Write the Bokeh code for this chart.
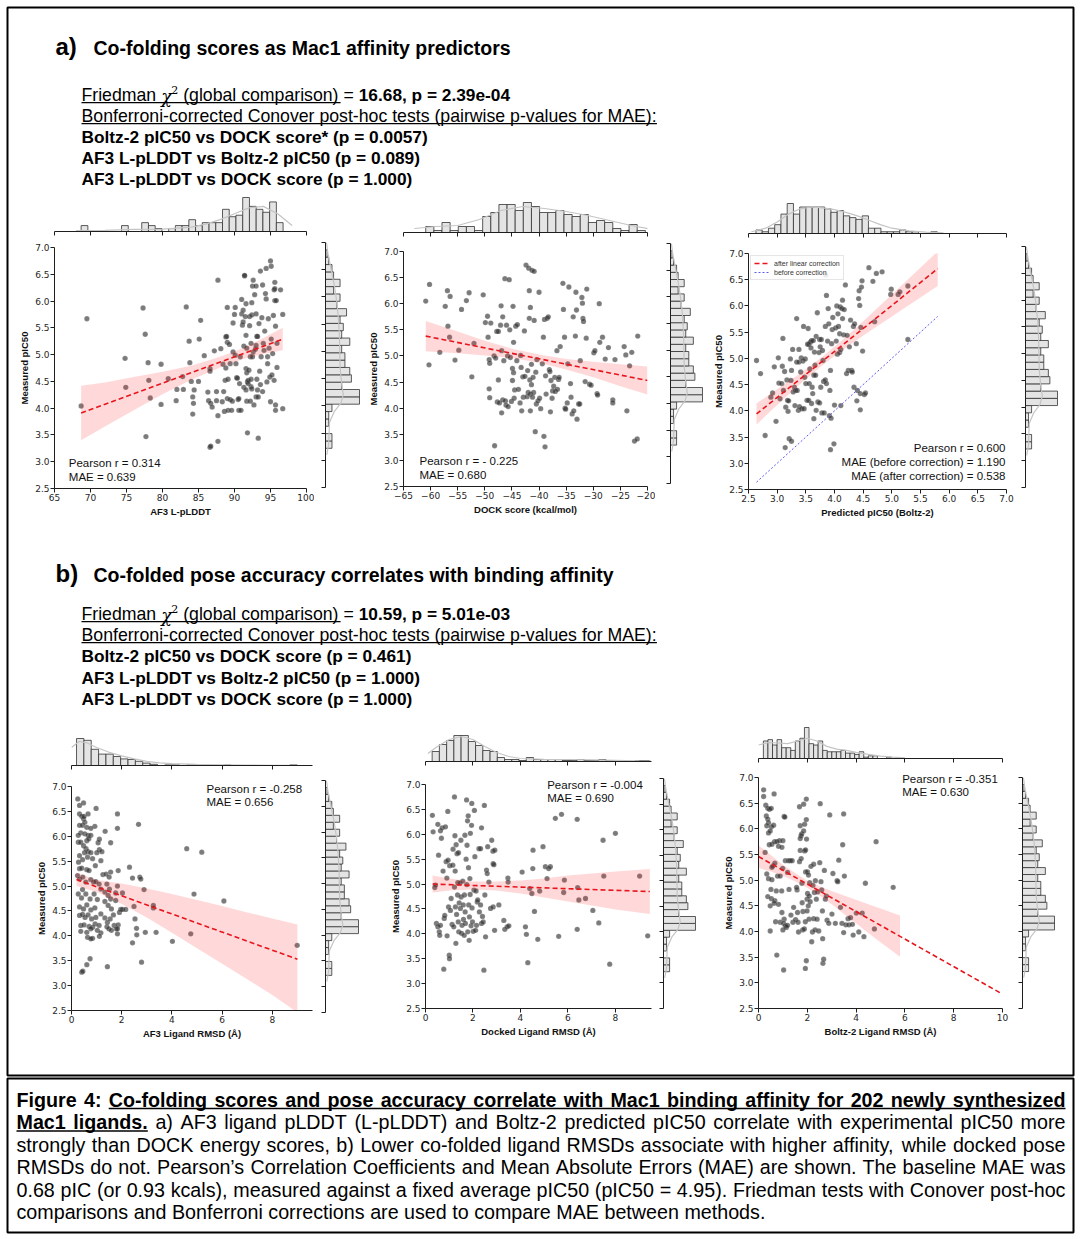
from bokeh.plotting import figure
from bokeh.models import (Range1d, Label, GridBox, Column, FixedTicker, NumeralTickFormatter,
                          Legend, LegendItem)
from bokeh.embed import file_html
from bokeh.resources import INLINE

# ============================ DATA ============================
pic50_ticks = [2.5, 3.0, 3.5, 4.0, 4.5, 5.0, 5.5, 6.0, 6.5, 7.0]

# --- a1: AF3 L-pLDDT vs measured pIC50 ---
a1_xy = [(68.7,4.04),(69.5,5.67),(74.8,4.93),(74.9,4.39),(77.3,5.87),(77.6,5.38),(77.7,3.47),(78.0,4.85),(78.1,4.52),(78.3,4.19),
 (79.8,4.82),(79.8,4.07),(80.8,4.55),(81.9,4.14),(82.0,4.35),(82.9,4.35),(82.8,4.59),(83.3,5.89),(83.7,5.25),(83.8,4.85),
 (84.0,4.50),(84.2,4.21),(84.2,3.89),(84.3,4.09),(84.4,4.34),(85.0,4.50),(85.1,5.29),(85.3,5.64),(85.8,4.98),(86.3,4.30),
 (86.4,4.14),(86.6,4.74),(86.6,3.27),(86.6,4.69),(86.7,3.29),(86.7,4.09),(86.9,4.02),(87.2,5.07),(87.5,4.14),(87.5,4.31),
 (87.7,3.38),(87.7,6.39),(87.7,3.86),(88.1,5.11),(88.3,4.12),(88.4,4.82),(88.5,4.31),(88.6,3.94),(88.7,4.52),(88.8,5.33),
 (88.8,4.75),(88.9,5.34),(89.0,5.23),(89.0,5.88),(89.0,4.18),(89.1,3.96),(89.1,4.54),(89.3,5.19),(89.4,4.16),(89.4,4.83),
 (89.6,3.96),(89.7,4.13),(89.8,5.59),(89.8,5.05),(90.0,5.75),(90.1,5.88),(90.1,4.99),(90.2,4.83),(90.3,4.57),(90.4,4.56),
 (90.5,4.16),(90.6,4.18),(90.6,3.96),(90.7,4.46),(90.8,4.96),(90.9,3.96),(91.0,5.76),(91.0,6.03),(91.1,5.55),(91.2,5.61),
 (91.2,5.83),(91.3,4.39),(91.3,5.16),(91.4,6.47),(91.4,6.48),(91.5,5.71),(91.6,5.36),(91.6,4.74),(91.6,5.95),(91.6,4.34),
 (91.7,5.12),(91.7,4.66),(91.7,4.13),(91.8,3.54),(91.8,4.49),(91.9,4.46),(91.9,4.52),(92.0,4.71),(92.1,5.71),(92.1,5.54),
 (92.2,4.96),(92.2,4.13),(92.3,4.54),(92.3,5.21),(92.3,4.40),(92.4,4.36),(92.4,5.74),(92.4,5.97),(92.5,4.96),(92.5,6.28),
 (92.6,5.05),(92.6,6.39),(92.7,4.06),(92.8,6.12),(92.9,5.10),(93.0,5.17),(93.0,6.28),(93.0,5.76),(93.0,4.21),(93.1,5.34),
 (93.1,4.54),(93.2,5.34),(93.2,4.34),(93.3,4.21),(93.3,3.44),(93.4,5.58),(93.5,4.69),(93.6,4.44),(93.6,6.56),(93.7,4.96),
 (93.8,5.69),(93.9,6.30),(93.9,4.31),(94.0,5.21),(94.1,5.08),(94.2,5.44),(94.3,6.14),(94.4,6.61),(94.4,6.04),(94.5,4.49),
 (94.6,4.96),(94.6,4.83),(94.7,5.67),(94.8,5.12),(94.9,4.58),(95.0,4.12),(95.0,6.75),(95.1,5.29),(95.1,6.65),(95.2,4.62),
 (95.3,5.02),(95.4,5.73),(95.5,4.52),(95.5,6.21),(95.6,6.35),(95.6,6.23),(95.6,6.01),(95.7,5.53),(95.7,3.96),(95.7,4.06),
 (95.8,6.01),(95.9,5.21),(96.4,6.21),(96.7,5.75),(96.7,3.99),(95.9,4.76)]
a1_fit_x = [68.7, 96.7]
a1_fit_y = [3.91, 5.29]
a1_ci_x = [68.7, 72, 76, 80, 84, 88, 90, 92, 94, 96.7]
a1_ci_lo = [3.40, 3.66, 3.96, 4.26, 4.53, 4.76, 4.86, 4.95, 5.01, 5.08]
a1_ci_hi = [4.42, 4.48, 4.58, 4.68, 4.79, 4.96, 5.06, 5.17, 5.31, 5.50]
a1_hist_start, a1_hist_width = 68.7, 0.935
a1_hist_counts = [4,0,0,0,0,0,4,0,0,6,4,2,0,2,4,4,8,4,6,6,6,15,10,11,23,17,15,13,20,6]
a1_kde_x = [68, 72, 76, 80, 84, 86, 88, 90, 92, 94, 96, 98]
a1_kde_c = [0.6, 0.8, 1.4, 1.6, 3.0, 5.0, 8.0, 12.0, 16.0, 17.0, 12.0, 4.0]

# --- a2: DOCK score vs measured pIC50 ---
a2_xy = [(-60.9,6.05),(-60.2,6.37),(-60.3,4.83),(-58.3,5.07),(-57.3,5.95),(-56.9,6.25),(-56.8,5.57),(-56.4,6.14),(-56.5,5.36),(-55.5,4.92),
 (-54.8,5.11),(-54.3,5.89),(-53.4,6.06),(-52.9,6.21),(-52.4,4.60),(-52.0,5.24),(-50.3,6.17),(-49.9,5.64),(-49.5,5.76),(-49.4,5.36),
 (-49.2,4.93),(-49.1,4.86),(-49.2,4.37),(-49.1,4.20),(-48.9,5.63),(-48.3,5.00),(-48.2,3.28),(-48.0,4.96),(-47.8,5.47),(-47.7,4.12),
 (-47.5,5.47),(-47.5,4.54),(-47.3,4.10),(-47.1,5.59),(-47.0,5.96),(-46.9,5.10),(-46.9,3.91),(-46.7,5.75),(-46.7,4.16),(-46.5,4.91),
 (-46.3,6.48),(-46.2,4.14),(-46.1,4.06),(-46.0,5.59),(-45.8,5.00),(-45.7,4.03),(-45.5,6.46),(-45.4,5.50),(-45.3,4.97),(-45.1,4.13),
 (-44.9,4.53),(-44.9,4.76),(-44.8,5.95),(-44.7,4.68),(-44.7,5.26),(-44.6,4.19),(-44.5,4.35),(-44.3,5.57),(-44.1,4.91),(-44.0,5.60),
 (-43.8,4.36),(-43.5,4.10),(-43.4,5.01),(-43.3,4.78),(-43.2,3.95),(-43.0,4.60),(-42.9,4.21),(-42.7,5.48),(-42.6,4.61),(-42.4,6.74),
 (-42.2,4.22),(-42.1,4.72),(-42.0,4.30),(-41.9,6.68),(-41.8,6.25),(-41.8,5.72),(-41.7,4.54),(-41.6,3.95),(-41.6,5.93),(-41.6,4.27),
 (-41.4,4.84),(-41.4,4.45),(-41.3,6.64),(-41.2,4.21),(-41.1,4.59),(-41.0,4.30),(-40.9,6.62),(-40.9,5.68),(-40.7,3.55),(-40.6,4.69),
 (-40.5,4.08),(-40.4,4.93),(-40.2,4.14),(-40.0,6.22),(-39.9,4.19),(-39.7,3.99),(-39.4,4.85),(-39.2,5.36),(-39.1,3.46),(-39.0,5.70),
 (-38.9,3.26),(-38.8,4.62),(-38.7,4.27),(-38.5,5.72),(-38.3,5.75),(-38.1,4.74),(-38.0,4.70),(-37.9,3.93),(-37.8,4.53),(-37.6,4.19),
 (-37.5,4.33),(-37.3,4.42),(-37.1,4.59),(-37.0,4.32),(-36.7,5.10),(-36.6,4.36),(-36.4,4.55),(-36.3,4.59),(-36.1,5.18),(-35.6,6.39),
 (-35.5,5.89),(-35.3,5.36),(-35.2,4.00),(-35.1,3.98),(-34.8,4.10),(-34.7,4.85),(-34.5,6.32),(-34.2,4.47),(-34.1,4.21),(-33.9,3.89),
 (-33.7,5.75),(-33.6,3.95),(-33.3,5.38),(-33.2,6.22),(-33.1,5.88),(-33.0,3.79),(-32.7,4.08),(-32.5,4.08),(-32.4,4.91),(-32.1,6.12),
 (-32.0,6.01),(-31.9,5.72),(-31.8,5.66),(-31.5,4.51),(-31.3,5.34),(-31.2,6.28),(-30.7,4.46),(-30.4,4.44),(-29.9,5.06),(-29.7,5.10),
 (-29.3,4.28),(-29.2,4.25),(-28.9,6.00),(-28.8,5.26),(-28.3,5.36),(-27.8,4.94),(-27.2,5.16),(-26.4,4.16),(-26.4,4.10),(-26.0,4.93),
 (-24.3,5.18),(-24.0,5.02),(-23.8,3.95),(-23.3,4.81),(-22.9,5.07),(-22.4,3.37),(-21.9,3.41),(-21.8,5.38)]
a2_fit_x = [-60.9, -20.0]
a2_fit_y = [5.38, 4.53]
a2_ci_x = [-60.9, -55, -50, -45, -40, -35, -30, -25, -20]
a2_ci_lo = [5.09, 5.05, 5.01, 4.96, 4.87, 4.74, 4.59, 4.42, 4.26]
a2_ci_hi = [5.67, 5.47, 5.29, 5.14, 5.03, 4.94, 4.89, 4.84, 4.80]
a2_hist_start, a2_hist_width = -60.9, 1.5
a2_hist_counts = [3,1,5,1,3,3,1,8,10,14,14,11,15,13,10,10,11,9,8,9,5,6,5,2,1,4,1]
a2_kde_x = [-63, -59, -55, -51, -47, -43, -39, -35, -31, -27, -23, -19]
a2_kde_c = [2.0, 3.0, 3.5, 6.5, 11.0, 13.0, 12.0, 10.5, 8.5, 6.0, 3.5, 1.5]

# --- a3: Boltz-2 predicted pIC50 vs measured pIC50 ---
a3_xy = [(2.64,4.96),(2.71,4.71),(2.79,3.53),(2.89,4.26),(2.92,4.34),(2.95,4.84),(2.98,3.80),(3.02,5.01),(3.03,4.53),(3.05,4.23),
 (3.08,4.52),(3.09,4.85),(3.10,5.38),(3.11,4.39),(3.13,4.75),(3.14,3.30),(3.15,4.07),(3.17,4.59),(3.18,4.20),(3.19,3.99),
 (3.20,4.19),(3.21,3.47),(3.23,4.99),(3.24,4.58),(3.25,3.42),(3.25,4.77),(3.27,5.17),(3.28,4.36),(3.30,4.45),(3.31,4.10),
 (3.32,4.39),(3.34,5.76),(3.34,4.93),(3.35,4.39),(3.37,4.01),(3.38,5.17),(3.38,4.93),(3.39,4.08),(3.41,4.74),(3.42,5.01),
 (3.43,4.04),(3.45,4.95),(3.46,5.61),(3.47,4.04),(3.48,4.64),(3.49,4.99),(3.50,4.52),(3.52,4.20),(3.53,5.27),(3.54,5.57),
 (3.55,4.20),(3.55,5.27),(3.56,4.52),(3.57,4.80),(3.58,5.31),(3.59,5.20),(3.60,5.34),(3.60,4.14),(3.61,4.45),(3.62,4.33),
 (3.63,5.34),(3.64,4.68),(3.64,3.85),(3.65,5.12),(3.66,4.87),(3.67,4.68),(3.68,4.01),(3.68,5.42),(3.70,5.87),(3.71,4.17),
 (3.73,5.11),(3.74,5.36),(3.74,4.15),(3.75,5.22),(3.76,4.45),(3.77,5.36),(3.78,3.96),(3.79,5.15),(3.80,4.96),(3.81,4.56),
 (3.82,3.96),(3.84,4.59),(3.84,5.61),(3.85,6.59),(3.86,6.20),(3.86,4.52),(3.88,5.33),(3.89,5.95),(3.90,5.66),(3.91,3.91),
 (3.92,4.39),(3.93,3.26),(3.93,4.77),(3.94,3.86),(3.95,5.28),(3.96,5.55),(3.97,5.78),(3.99,3.37),(4.00,4.11),(4.02,5.58),
 (4.03,5.33),(4.04,6.00),(4.05,5.08),(4.06,5.85),(4.07,5.61),(4.09,5.11),(4.09,5.47),(4.10,5.98),(4.11,5.17),(4.11,4.10),
 (4.13,5.95),(4.14,5.76),(4.14,6.11),(4.16,5.45),(4.17,5.93),(4.19,6.40),(4.21,4.71),(4.22,5.44),(4.24,4.77),(4.26,5.22),
 (4.28,5.73),(4.30,4.77),(4.31,4.74),(4.33,5.61),(4.34,4.45),(4.35,5.66),(4.38,5.28),(4.39,4.19),(4.40,4.39),(4.42,6.14),
 (4.43,6.29),(4.44,6.01),(4.45,4.33),(4.45,4.02),(4.46,5.59),(4.47,6.36),(4.48,6.48),(4.49,5.14),(4.52,4.31),(4.54,4.34),
 (4.60,6.73),(4.67,6.47),(4.70,5.70),(4.73,6.62),(4.83,6.65),(4.99,6.32),(4.98,6.22),(5.11,6.22),(5.14,6.27),(5.28,6.38),
 (5.28,5.36)]
a3_fit_x = [2.64, 5.80]
a3_fit_y = [3.94, 6.71]
a3_raw_x = [2.64, 5.80]
a3_raw_y = [2.64, 5.80]
a3_ci_x = [2.64, 3.0, 3.4, 3.8, 4.2, 4.6, 5.0, 5.4, 5.8]
a3_ci_lo = [3.74, 4.11, 4.51, 4.88, 5.21, 5.51, 5.80, 6.09, 6.38]
a3_ci_hi = [4.14, 4.41, 4.71, 5.04, 5.41, 5.81, 6.22, 6.63, 7.04]
a3_hist_start, a3_hist_width = 2.63, 0.109
a3_hist_counts = [2,1,3,5,11,17,11,15,15,15,15,14,12,13,10,9,8,10,3,3,1,1,1,2,1,1,0,0,1]
a3_kde_x = [2.55, 2.8, 3.0, 3.2, 3.4, 3.6, 3.8, 4.0, 4.2, 4.4, 4.6, 4.8, 5.0, 5.3, 5.6, 5.9]
a3_kde_c = [1.0, 3.0, 6.5, 11.0, 14.0, 15.0, 14.5, 13.5, 12.0, 10.0, 7.5, 5.0, 3.0, 1.5, 0.8, 0.4]

# --- b1: AF3 ligand RMSD ---
b1_xy = [(0.25,6.75),(0.32,6.62),(0.48,6.67),(0.32,6.45),(0.41,6.40),(0.48,6.35),(0.50,6.40),(0.66,6.45),(0.98,6.56),(0.32,6.22),
 (0.44,6.22),(0.53,6.28),(0.61,6.18),(0.37,6.07),(0.27,6.02),(0.53,6.05),(0.66,6.02),(0.77,6.02),(0.93,6.20),(0.77,6.16),
 (0.27,5.88),(0.37,5.88),(0.61,5.91),(0.69,5.95),(0.48,5.81),(0.58,5.75),(0.66,5.69),(0.52,5.67),(0.77,5.67),(0.32,5.61),
 (0.44,5.53),(0.64,5.58),(0.84,5.55),(0.28,5.48),(0.32,5.35),(0.41,5.36),(0.61,5.33),(0.70,5.31),(0.95,5.41),(1.11,5.73),
 (1.06,5.87),(1.11,5.94),(1.21,5.69),(1.01,5.67),(1.17,5.51),(0.24,5.21),(0.32,5.14),(0.45,5.18),(0.57,5.08),(0.77,5.13),
 (0.88,5.08),(0.97,5.09),(1.10,5.04),(1.17,4.94),(0.44,4.93),(0.27,4.84),(0.40,4.76),(0.57,4.84),(0.74,4.74),(0.90,4.84),
 (1.03,4.73),(0.32,4.58),(0.48,4.54),(0.61,4.62),(0.77,4.52),(0.93,4.56),(0.32,4.41),(0.44,4.43),(0.54,4.37),(0.66,4.42),
 (0.80,4.34),(0.97,4.37),(1.17,4.44),(0.37,4.21),(0.50,4.22),(0.70,4.19),(0.84,4.17),(0.94,4.24),(1.10,4.21),(0.37,4.09),
 (0.61,4.07),(0.77,4.14),(1.03,4.11),(1.17,4.06),(0.64,3.97),(0.84,3.95),(0.77,3.94),(1.11,3.99),(0.74,3.54),(0.61,3.42),
 (0.41,3.27),(0.45,3.29),(1.25,5.23),(1.38,5.24),(1.50,5.18),(1.56,5.28),(1.86,5.31),(1.34,6.10),(1.56,5.87),(1.83,6.45),
 (1.83,6.16),(1.33,4.88),(1.41,5.04),(1.46,4.81),(1.51,4.94),(1.33,4.69),(1.46,4.61),(1.56,4.74),(1.59,4.54),(1.76,4.71),
 (1.33,4.36),(1.43,4.27),(1.54,4.34),(1.41,4.18),(1.49,4.14),(1.59,4.11),(1.70,4.21),(1.78,4.14),(1.83,4.04),(1.86,4.22),
 (1.43,3.38),(1.67,4.42),(1.91,4.47),(1.96,4.53),(2.03,4.53),(2.16,4.53),(1.83,5.00),(1.76,4.86),(2.03,4.86),(1.83,4.14),
 (2.31,5.38),(2.43,5.16),(2.49,4.59),(2.53,4.34),(2.43,3.86),(2.59,4.15),(2.60,4.02),(2.67,6.24),(2.72,5.18),(2.76,5.14),
 (2.79,3.47),(2.89,4.93),(2.94,4.07),(3.26,4.61),(3.26,4.56),(3.37,4.07),(4.02,3.89),(4.59,5.75),(4.75,4.04),(4.88,4.84),
 (5.19,5.68),(6.07,4.70),(8.99,3.81)]
b1_fit_x = [0.2, 9.0]
b1_fit_y = [5.13, 3.53]
b1_ci_x = [0.2, 1.0, 2.0, 3.0, 4.0, 5.0, 6.0, 7.0, 8.0, 9.0]
b1_ci_lo = [5.00, 4.88, 4.64, 4.37, 4.06, 3.75, 3.44, 3.13, 2.81, 2.46]
b1_ci_hi = [5.27, 5.12, 5.05, 4.95, 4.84, 4.72, 4.60, 4.47, 4.35, 4.23]
b1_hist_start, b1_hist_width = 0.2, 0.293
b1_hist_counts = [45,42,27,19,19,15,11,10,7,4,2,0,1,1,0,1,1,1,0,0,1,0,0,0,0,0,0,0,0,1]
b1_kde_x = [0.0, 0.3, 0.6, 1.0, 1.5, 2.0, 2.5, 3.0, 3.5, 4.0, 5.0, 6.0, 7.0, 8.0, 9.0]
b1_kde_c = [30, 40, 38, 30, 22, 16, 11, 7, 4.5, 3, 1.8, 1.2, 0.6, 0.4, 0.3]

# --- b2: docked ligand RMSD ---
b2_xy = [(0.29,6.38),(0.32,6.05),(0.39,4.93),(0.42,4.98),(0.52,6.20),(0.55,5.58),(0.46,4.21),(0.52,4.14),(0.58,4.04),(0.60,3.97),
 (0.63,4.17),(0.63,6.07),(0.67,5.92),(0.70,6.13),(0.74,5.26),(0.77,3.29),(0.79,4.31),(0.81,4.37),(0.84,6.15),(0.87,5.45),
 (0.90,5.12),(0.91,3.96),(0.94,6.46),(0.95,5.48),(0.97,4.54),(1.00,3.57),(1.01,3.50),(1.02,5.37),(1.05,4.47),(1.08,4.71),
 (1.12,4.19),(1.15,5.38),(1.16,5.70),(1.19,4.14),(1.22,4.94),(1.22,6.75),(1.24,5.97),(1.25,5.26),(1.26,4.54),(1.28,3.81),
 (1.29,5.79),(1.31,4.39),(1.33,5.61),(1.35,4.78),(1.36,5.03),(1.38,4.24),(1.39,5.63),(1.40,4.04),(1.42,4.62),(1.45,5.02),
 (1.47,4.51),(1.49,5.88),(1.50,4.74),(1.52,4.01),(1.54,4.17),(1.57,5.06),(1.59,4.58),(1.60,4.29),(1.63,3.97),(1.64,4.78),
 (1.66,5.98),(1.67,4.44),(1.68,4.21),(1.71,5.50),(1.73,6.69),(1.74,4.99),(1.75,5.78),(1.77,6.27),(1.78,4.04),(1.80,6.37),
 (1.81,5.33),(1.82,4.58),(1.84,3.87),(1.85,4.34),(1.87,5.11),(1.88,4.79),(1.89,6.02),(1.92,4.16),(1.94,6.18),(1.95,6.62),
 (1.96,4.52),(1.98,4.24),(2.01,4.05),(2.04,4.88),(2.06,6.48),(2.08,5.55),(2.11,4.07),(2.13,4.86),(2.15,4.17),(2.18,4.64),
 (2.20,4.68),(2.25,5.71),(2.27,4.44),(2.32,4.58),(2.32,5.71),(2.36,6.13),(2.36,4.21),(2.40,4.35),(2.43,4.24),(2.46,3.27),
 (2.48,6.58),(2.50,4.78),(2.53,3.94),(2.57,5.28),(2.60,5.21),(2.62,5.75),(2.67,5.04),(2.74,4.51),(2.79,5.88),(2.84,5.66),
 (2.85,5.41),(2.88,5.39),(2.91,4.07),(2.92,5.68),(2.85,4.54),(3.09,4.58),(3.30,4.27),(3.34,4.09),(3.44,4.14),(3.47,5.12),
 (3.48,5.04),(3.51,4.16),(4.07,5.24),(4.21,4.14),(4.25,3.99),(4.31,3.42),(4.39,4.91),(4.48,4.81),(4.52,5.31),(4.53,5.68),
 (4.59,4.45),(4.73,3.89),(4.81,4.86),(4.95,5.75),(5.05,5.35),(5.12,5.11),(5.19,5.31),(5.26,5.35),(5.47,6.32),(5.61,3.95),
 (5.73,6.40),(5.82,4.83),(5.85,5.08),(6.39,6.30),(6.39,4.09),(6.41,4.93),(6.46,4.68),(6.74,4.71),(7.05,4.47),(7.30,4.22),
 (7.48,5.88),(7.51,5.16),(7.76,3.39),(8.00,6.02),(9.02,5.16),(9.36,3.96)]
b2_fit_x = [0.3, 9.45]
b2_fit_y = [5.00, 4.85]
b2_ci_x = [0.3, 1, 2, 3, 4, 5, 6, 7, 8, 9.45]
b2_ci_lo = [4.83, 4.87, 4.89, 4.87, 4.81, 4.73, 4.65, 4.57, 4.49, 4.40]
b2_ci_hi = [5.17, 5.11, 5.05, 5.05, 5.07, 5.11, 5.17, 5.21, 5.25, 5.30]
b2_hist_start, b2_hist_width = 0.28, 0.305
b2_hist_counts = [10,17,21,26,26,20,16,11,10,4,2,2,1,4,2,2,2,2,1,1,2,1,1,2,1,1,0,0,1,1]
b2_kde_x = [0.1, 0.5, 1.0, 1.5, 2.0, 2.5, 3.0, 3.5, 4.0, 5.0, 6.0, 7.0, 8.0, 9.0, 9.5]
b2_kde_c = [8, 15, 22, 25, 22, 15, 9, 5, 3, 2.2, 2, 1.6, 1.2, 0.7, 0.5]

# --- b3: Boltz-2 ligand RMSD ---
b3_xy = [(0.21,6.76),(0.21,6.63),(0.64,6.68),(0.30,6.46),(0.38,6.40),(0.32,6.25),(0.38,6.19),(0.45,6.38),(0.52,6.40),(0.41,6.12),
 (0.34,6.06),(0.53,6.04),(0.62,6.07),(0.41,5.92),(0.48,5.96),(0.44,5.69),(0.55,5.70),(0.66,5.75),(0.75,5.75),(0.86,5.77),
 (1.00,5.77),(0.82,5.66),(0.96,5.64),(0.27,5.54),(1.05,6.24),(1.08,6.23),(0.59,5.28),(0.55,5.25),(0.67,5.33),(0.34,5.12),
 (0.41,5.03),(0.55,5.01),(0.78,5.08),(0.89,5.08),(0.99,5.23),(0.51,4.82),(0.73,4.79),(0.95,4.79),(0.38,4.68),(0.53,4.64),
 (0.67,4.60),(0.48,4.50),(0.64,4.55),(0.82,4.53),(0.96,4.37),(1.05,4.24),(0.70,4.19),(0.89,4.18),(1.03,4.16),(1.10,4.11),
 (1.14,4.08),(1.19,4.12),(0.48,4.01),(1.00,4.03),(0.75,3.54),(1.03,3.25),(1.10,5.38),(1.19,5.15),(1.23,5.38),(1.30,5.38),
 (1.38,5.38),(1.25,4.82),(1.33,4.32),(1.41,4.18),(1.44,4.47),(1.52,4.23),(1.58,4.81),(1.60,4.37),(1.62,4.18),(1.64,3.99),
 (1.56,4.86),(1.68,6.43),(1.68,5.36),(1.71,6.06),(1.71,5.81),(1.74,5.86),(1.71,5.58),(1.77,5.90),(1.75,5.42),(1.78,4.94),
 (1.79,4.56),(1.81,4.03),(1.82,4.39),(1.85,6.48),(1.85,5.96),(1.88,4.05),(1.89,6.09),(1.89,5.57),(1.92,4.19),(1.92,3.28),
 (1.93,5.59),(1.93,5.16),(1.96,6.58),(1.96,3.43),(1.96,6.18),(1.97,5.80),(1.99,4.40),(1.99,4.63),(2.01,5.16),(2.01,4.74),
 (2.04,4.50),(2.05,5.10),(2.07,4.24),(2.08,4.69),(2.10,4.95),(2.12,4.58),(2.15,5.27),(2.18,3.80),(2.21,3.99),(2.23,4.90),
 (2.26,5.31),(2.26,4.25),(2.29,4.76),(2.32,4.03),(2.33,4.99),(2.37,4.63),(2.40,4.24),(2.42,4.77),(2.47,4.01),(2.51,5.34),
 (2.53,6.49),(2.56,4.97),(2.59,4.81),(2.62,4.40),(2.63,3.86),(2.64,3.38),(2.67,3.46),(2.70,5.19),(2.74,4.63),(2.78,4.69),
 (2.81,4.22),(2.88,4.16),(2.92,6.27),(3.01,4.34),(3.05,5.13),(3.15,4.16),(3.22,4.99),(3.25,4.97),(3.29,5.39),(3.36,4.47),
 (3.42,4.16),(3.45,5.69),(3.49,6.29),(3.49,3.98),(3.52,5.08),(3.58,4.13),(3.67,4.25),(3.71,4.13),(3.77,4.27),(3.85,4.14),
 (3.88,3.93),(4.01,4.36),(4.11,3.99),(4.25,4.36),(4.32,3.90),(4.38,4.94),(4.75,4.05),(4.82,5.75),(5.52,4.86)]
b3_fit_x = [0.0, 10.0]
b3_fit_y = [5.46, 2.78]
b3_ci_x = [0.0, 0.5, 1.0, 1.5, 2.0, 2.5, 3.0, 3.5, 4.0, 4.5, 5.0, 5.8]
b3_ci_lo = [5.24, 5.17, 5.08, 4.98, 4.85, 4.70, 4.53, 4.34, 4.16, 3.97, 3.79, 3.51]
b3_ci_hi = [5.68, 5.49, 5.30, 5.14, 4.99, 4.88, 4.79, 4.70, 4.62, 4.53, 4.45, 4.31]
b3_hist_start, b3_hist_width = 0.2, 0.187
b3_hist_counts = [13,14,10,14,8,8,6,13,15,23,11,10,13,6,5,5,5,6,4,4,3,5,1,2,2,0,0,1,0,0]
b3_kde_x = [0.0, 0.4, 0.8, 1.2, 1.6, 2.0, 2.4, 2.8, 3.2, 3.6, 4.0, 4.5, 5.0, 5.5, 6.0]
b3_kde_c = [10, 12, 11.5, 11, 13, 15, 13, 9, 7, 6, 4.5, 3, 1.8, 1.0, 0.5]

# --- measured pIC50 marginal (shared by all six panels) ---
pic50_hist_start, pic50_hist_width = 3.22, 0.135
pic50_hist_counts = [4,4,0,2,2,4,21,21,10,16,15,12,12,10,15,10,11,9,13,7,9,5,9,5,4,2,1]
pic50_kde_y = [3.1, 3.3, 3.5, 3.7, 3.9, 4.05, 4.2, 4.4, 4.7, 5.0, 5.3, 5.6, 5.9, 6.2, 6.5, 6.8, 7.0]
pic50_kde_c = [0.8, 2.0, 2.2, 2.5, 5.5, 9.5, 11.0, 10.0, 9.0, 8.8, 8.6, 8.0, 7.0, 5.5, 3.5, 1.5, 0.6]

# ---- texts ----
stats_a = ["16.68, p = 2.39e-04",
           "Boltz-2 pIC50 vs DOCK score* (p = 0.0057)",
           "AF3 L-pLDDT vs Boltz-2 pIC50 (p = 0.089)",
           "AF3 L-pLDDT vs DOCK score (p = 1.000)"]
stats_b = ["10.59, p = 5.01e-03",
           "Boltz-2 pIC50 vs DOCK score (p = 0.461)",
           "AF3 L-pLDDT vs Boltz-2 pIC50 (p = 1.000)",
           "AF3 L-pLDDT vs DOCK score (p = 1.000)"]
caption_lines = [
    [("Figure 4:", "b"), ("Co-folding scores and pose accuracy correlate with Mac1 binding affinity for 202 newly synthesized", "bu")],
    [("Mac1 ligands.", "bu"), ("a) AF3 ligand pLDDT (L-pLDDT) and Boltz-2 predicted pIC50 correlate with experimental pIC50 more", "r")],
    [("strongly than DOCK energy scores, b) Lower co-folded ligand RMSDs associate with higher affinity, while docked pose", "r")],
    [("RMSDs do not. Pearson\u2019s Correlation Coefficients and Mean Absolute Errors (MAE) are shown. The baseline MAE was", "r")],
    [("0.68 pIC (or 0.93 kcals), measured against a fixed average pIC50 (pIC50 = 4.95). Friedman tests with Conover post-hoc", "r")],
    [("comparisons and Bonferroni corrections are used to compare MAE between methods.", "r")],
]

# ============================ LAYOUT / STYLE ============================
OX, OY = 0, 0
PAGE_W, PAGE_H = 1079, 1238
SANS = "Liberation Sans"
TICKF = "DejaVu Sans"
INK = "#1e1e1e"

REG_W = {' ':278,'!':278,'(':333,')':333,'*':389,',':278,'-':333,'.':278,':':278,'=':584,'\u2019':222,"'":191,
 'A':667,'B':667,'C':722,'D':722,'E':667,'F':611,'G':778,'H':722,'I':278,'J':500,'K':667,'L':556,'M':833,'N':722,
 'O':778,'P':667,'Q':778,'R':722,'S':667,'T':611,'U':722,'V':667,'W':944,'X':667,'Y':667,'Z':611,
 'a':556,'b':556,'c':500,'d':556,'e':556,'f':278,'g':556,'h':556,'i':222,'j':222,'k':500,'l':222,'m':833,'n':556,
 'o':556,'p':556,'q':556,'r':333,'s':500,'t':278,'u':556,'v':500,'w':722,'x':500,'y':500,'z':500}
BOLD_W = {' ':278,'!':333,'(':333,')':333,'*':389,',':278,'-':333,'.':278,':':333,'=':584,
 'A':722,'B':722,'C':722,'D':722,'E':667,'F':611,'G':778,'H':722,'I':278,'J':556,'K':722,'L':611,'M':833,'N':722,
 'O':778,'P':667,'Q':778,'R':722,'S':667,'T':611,'U':722,'V':667,'W':944,'X':667,'Y':667,'Z':611,
 'a':556,'b':611,'c':556,'d':611,'e':556,'f':333,'g':611,'h':611,'i':278,'j':278,'k':556,'l':278,'m':889,'n':611,
 'o':611,'p':611,'q':611,'r':389,'s':556,'t':333,'u':611,'v':556,'w':778,'x':556,'y':556,'z':500}


def tw(s, bold):
    t = BOLD_W if bold else REG_W
    return sum(t.get(c, 556) for c in s) / 1000.0


placed = []


def place(fig, left, top):
    placed.append((fig, int(round(left - OX)), int(round(top - OY))))


def clean(p):
    p.xgrid.grid_line_color = None
    p.ygrid.grid_line_color = None
    p.outline_line_color = None
    p.background_fill_alpha = 0
    p.border_fill_alpha = 0


def axis_common(ax):
    ax.axis_line_color = INK
    ax.axis_line_width = 1.0
    ax.major_tick_line_color = INK
    ax.major_tick_line_width = 1.0
    ax.major_tick_in = 0
    ax.major_tick_out = 4
    ax.minor_tick_line_color = None
    ax.major_label_text_font = TICKF
    ax.major_label_text_font_size = "9px"
    ax.major_label_text_color = "#262626"
    ax.major_label_standoff = 1


def hide_labels(ax, ticks):
    ax.major_label_overrides = {t: "" for t in ticks}
    ax.major_label_text_font_size = "1px"


# ---------------- background page (headers, stats, caption, frames, panel notes) ----------------
bg = figure(width=PAGE_W, height=PAGE_H, x_range=Range1d(OX, OX + PAGE_W),
            y_range=Range1d(OY + PAGE_H, OY), x_axis_location=None, y_axis_location=None,
            min_border=0, min_border_left=0, min_border_right=0, min_border_top=0, min_border_bottom=0,
            output_backend="svg", toolbar_location=None)
bg.xgrid.grid_line_color = None
bg.ygrid.grid_line_color = None
bg.outline_line_color = None
bg.background_fill_color = "white"
bg.border_fill_color = "white"
place(bg, OX, OY)

bg.quad(left=[7], right=[1073], top=[7], bottom=[1075], fill_color=None, line_color="black", line_width=2)
bg.quad(left=[7], right=[1073], top=[1078], bottom=[1232], fill_color=None, line_color="black", line_width=2)


def put(text, x, cy, size, bold=False, font=SANS, align="left", italic=False, color="#000000"):
    style = "bold" if bold else ("italic" if italic else "normal")
    bg.add_layout(Label(x=x, y=cy, text=text, text_font=font,
                        text_font_size=f"{size}px", text_font_style=style, text_align=align,
                        text_baseline="middle", text_color=color))


def underline(x0, x1, cy, size, width=1.2):
    yy = cy + 0.46 * size
    bg.segment(x0=[x0], y0=[yy], x1=[x1], y1=[yy], line_color="#000000", line_width=width)


REGF, BOLDF = 17.7, 17.3


def section_header(letter, title, cy_title, rows_y, stats):
    put(letter, 55, cy_title, 24, bold=True)
    put(title, 93, cy_title + 1, 19.5, bold=True)
    y1 = rows_y[0]
    x = 81
    put("Friedman", x, y1, REGF)
    xc = x + tw("Friedman ", False) * REGF
    put("\u03c7", xc, y1 + 2, REGF, font="DejaVu Serif", italic=True)
    put("2", xc + 10, y1 - 5, 11, font="DejaVu Serif")
    xg = xc + 22
    put("(global comparison)", xg, y1, REGF)
    xe = xg + tw("(global comparison)", False) * REGF
    underline(x, xe + 2, y1, REGF)
    put("=", xe + tw(" ", False) * REGF, y1, REGF)
    xb = xe + tw(" = ", False) * REGF
    put(stats[0], xb, y1, BOLDF, bold=True)
    put("Bonferroni-corrected Conover post-hoc tests (pairwise p-values for MAE):", 81, rows_y[1], REGF)
    underline(81, 81 + tw("Bonferroni-corrected Conover post-hoc tests (pairwise p-values for MAE):", False) * REGF,
              rows_y[1], REGF)
    for s, yy in zip(stats[1:], rows_y[2:]):
        put(s, 81, yy, BOLDF, bold=True)


section_header("a)", "Co-folding scores as Mac1 affinity predictors", 46, [94, 115, 136, 157, 178], stats_a)
section_header("b)", "Co-folded pose accuracy correlates with binding affinity", 573, [613, 634, 655, 677, 698], stats_b)

CAP_FS = 19.7
CAP_L, CAP_R = 16, 1065
cap_y = [1099, 1121.5, 1144, 1166.5, 1189, 1211.5]
for i, (segs, cy) in enumerate(zip(caption_lines, cap_y)):
    words = [(w, st) for txt, st in segs for w in txt.split(" ")]
    widths = [tw(w, st != "r") * CAP_FS for w, st in words]
    space = 0.278 * CAP_FS
    natural = sum(widths) + space * (len(words) - 1)
    gap = space
    if i < len(caption_lines) - 1:
        gap = space + (CAP_R - CAP_L - natural) / (len(words) - 1)
    x = CAP_L
    u0 = u1 = None
    for (w, st), wd in zip(words, widths):
        put(w, x, cy, CAP_FS, bold=(st != "r"))
        if st == "bu":
            if u0 is None:
                u0 = x
            u1 = x + wd
        x += wd + gap
    if u0 is not None:
        underline(u0, u1, cy, CAP_FS, width=1.4)

# ---------------- joint panels ----------------
panels = {
    "a1": dict(frame=(54, 306, 247, 488), xr=(65, 100), xticks=[65, 70, 75, 80, 85, 90, 95, 100], fmt="0",
               xlabel="AF3 L-pLDDT", top=(231, 34), right=(325, 242, 487, 34)),
    "a2": dict(frame=(403, 647, 251, 486), xr=(-65, -20), xticks=[-65, -60, -55, -50, -45, -40, -35, -30, -25, -20],
               fmt="minus", xlabel="DOCK score (kcal/mol)", top=(232, 30), right=(670, 243, 483, 32)),
    "a3": dict(frame=(748, 1006, 253, 489), xr=(2.5, 7.0), xticks=[2.5, 3.0, 3.5, 4.0, 4.5, 5.0, 5.5, 6.0, 6.5, 7.0],
               fmt="0.0", xlabel="Predicted pIC50 (Boltz-2)", top=(233, 30), right=(1025, 246, 487, 32)),
    "b1": dict(frame=(71, 312, 786, 1010), xr=(0, 9.6), xticks=[0, 2, 4, 6, 8], fmt="0",
               xlabel="AF3 Ligand RMSD (\u00c5)", top=(765, 27), right=(325, 780, 1012, 33)),
    "b2": dict(frame=(425, 651, 784, 1008), xr=(0, 9.52), xticks=[0, 2, 4, 6, 8], fmt="0",
               xlabel="Docked Ligand RMSD (\u00c5)", top=(761, 26), right=(663, 778, 1008, 32)),
    "b3": dict(frame=(758, 1002, 777, 1008), xr=(0, 10), xticks=[0, 2, 4, 6, 8, 10], fmt="0",
               xlabel="Boltz-2 Ligand RMSD (\u00c5)", top=(758, 31), right=(1022, 777, 1008, 32)),
}


def set_xfmt(ax, sp):
    ax.ticker = FixedTicker(ticks=sp["xticks"])
    if sp["fmt"] == "minus":
        ax.major_label_overrides = {t: ("\u2212%d" % (-t) if t < 0 else "%d" % t) for t in sp["xticks"]}
    else:
        ax.formatter = NumeralTickFormatter(format=sp["fmt"])


def build(key, xy, fit_x, fit_y, ci_x, ci_lo, ci_hi, h_start, h_width, h_counts, kde_x, kde_c, notes,
          note_align="left", extra=None):
    sp = panels[key]
    l, r, t, b = sp["frame"]
    fw, fh = int(round(r - l)), int(round(b - t))
    BL, BR, BT, BB = 52, 8, 14, 42
    p = figure(width=fw + BL + BR, height=fh + BT + BB, x_range=Range1d(*sp["xr"]),
               y_range=Range1d(2.5, 7.0), output_backend="svg", toolbar_location=None,
               min_border_left=BL, min_border_right=BR, min_border_top=BT, min_border_bottom=BB)
    clean(p)
    xs = [v[0] for v in xy]
    ys = [v[1] for v in xy]
    p.scatter(xs, ys, size=5.3, fill_color="#2a2a2a", fill_alpha=0.62, line_color="#ffffff",
              line_alpha=0.5, line_width=0.3)
    p.varea(x=ci_x, y1=ci_lo, y2=ci_hi, fill_color="#ff2020", fill_alpha=0.17)
    fit_r = p.line(fit_x, fit_y, line_color="#e8141c", line_width=1.6, line_dash="5 3")
    if extra is not None:
        extra(p, fit_r, fh)
    xa, ya = p.xaxis[0], p.yaxis[0]
    for ax in (xa, ya):
        axis_common(ax)
        ax.axis_label_text_font = SANS
        ax.axis_label_text_font_style = "bold"
        ax.axis_label_text_font_size = "9.5px"
        ax.axis_label_text_color = "#111111"
        ax.axis_label_standoff = 2
    set_xfmt(xa, sp)
    xa.axis_label = sp["xlabel"]
    ya.ticker = FixedTicker(ticks=pic50_ticks)
    ya.formatter = NumeralTickFormatter(format="0.0")
    ya.axis_label = "Measured pIC50"
    # statistics notes are drawn on the page layer so that they are never clipped by the frame
    for (txt, px, py) in notes:
        put(txt, px, py, 11.5, align=note_align, color="#111111")
    place(p, l - BL, t - BT)

    base, tpx = sp["top"]
    th = int(round(tpx + 3))
    TBL, TBR, TBT, TBB = 4, 4, 2, 22
    cmax = max(h_counts)
    pt = figure(width=fw + TBL + TBR, height=th + TBT + TBB, x_range=Range1d(*sp["xr"]),
                y_range=Range1d(0, cmax * th / tpx), y_axis_location=None, output_backend="svg",
                toolbar_location=None, min_border_left=TBL, min_border_right=TBR,
                min_border_top=TBT, min_border_bottom=TBB)
    clean(pt)
    edges = [h_start + h_width * i for i in range(len(h_counts) + 1)]
    pt.quad(left=edges[:-1], right=edges[1:], bottom=0, top=h_counts, fill_color="#e4e4e4",
            line_color="#333333", line_width=0.8)
    pt.line(kde_x, kde_c, line_color="#c4c4c4", line_width=1.2)
    ax = pt.xaxis[0]
    axis_common(ax)
    ax.ticker = FixedTicker(ticks=sp["xticks"])
    hide_labels(ax, sp["xticks"])
    place(pt, l - TBL, base - th - TBT)

    rl, rt, rb, rpx = sp["right"]
    rw, rh = int(round(rpx + 2)), int(round(rb - rt))
    RBL, RBR, RBT, RBB = 22, 2, 4, 4
    rmax = max(pic50_hist_counts)
    pr = figure(width=rw + RBL + RBR, height=rh + RBT + RBB, x_range=Range1d(0, rmax * rw / rpx),
                y_range=Range1d(2.5, 7.0), x_axis_location=None, output_backend="svg",
                toolbar_location=None, min_border_left=RBL, min_border_right=RBR,
                min_border_top=RBT, min_border_bottom=RBB)
    clean(pr)
    redges = [pic50_hist_start + pic50_hist_width * i for i in range(len(pic50_hist_counts) + 1)]
    pr.quad(left=0, right=pic50_hist_counts, bottom=redges[:-1], top=redges[1:], fill_color="#e4e4e4",
            line_color="#333333", line_width=0.8)
    pr.line(pic50_kde_c, pic50_kde_y, line_color="#c4c4c4", line_width=1.2)
    ay = pr.yaxis[0]
    axis_common(ay)
    ay.ticker = FixedTicker(ticks=pic50_ticks)
    hide_labels(ay, pic50_ticks)
    place(pr, rl - RBL, rt - RBT)


def a3_extra(p, fit_r, fh):
    raw_r = p.line(a3_raw_x, a3_raw_y, line_color="#5b5bf0", line_width=1.0, line_dash="2 2")
    leg = Legend(items=[LegendItem(label="after linear correction", renderers=[fit_r]),
                        LegendItem(label="before correction", renderers=[raw_r])],
                 location="top_left")
    leg.label_text_font = SANS
    leg.label_text_font_size = "7px"
    leg.label_text_color = "#333333"
    leg.label_height = 8
    leg.glyph_height = 8
    leg.glyph_width = 16
    leg.spacing = 1
    leg.padding = 3
    leg.margin = 2
    leg.label_standoff = 4
    leg.border_line_color = "#cccccc"
    leg.border_line_width = 0.8
    leg.background_fill_alpha = 0.85
    p.add_layout(leg)


build("a1", a1_xy, a1_fit_x, a1_fit_y, a1_ci_x, a1_ci_lo, a1_ci_hi, a1_hist_start, a1_hist_width,
      a1_hist_counts, a1_kde_x, a1_kde_c,
      [("Pearson r = 0.314", 68.3, 462.7), ("MAE = 0.639", 68.3, 476.0)])
build("a2", a2_xy, a2_fit_x, a2_fit_y, a2_ci_x, a2_ci_lo, a2_ci_hi, a2_hist_start, a2_hist_width,
      a2_hist_counts, a2_kde_x, a2_kde_c,
      [("Pearson r = - 0.225", 419.0, 460.7), ("MAE = 0.680", 419.0, 474.3)])
build("a3", a3_xy, a3_fit_x, a3_fit_y, a3_ci_x, a3_ci_lo, a3_ci_hi, a3_hist_start, a3_hist_width,
      a3_hist_counts, a3_kde_x, a3_kde_c,
      [("Pearson r = 0.600", 1005.0, 447.7), ("MAE (before correction) = 1.190", 1005.0, 461.7),
       ("MAE (after correction) = 0.538", 1005.0, 475.7)], note_align="right", extra=a3_extra)
build("b1", b1_xy, b1_fit_x, b1_fit_y, b1_ci_x, b1_ci_lo, b1_ci_hi, b1_hist_start, b1_hist_width,
      b1_hist_counts, b1_kde_x, b1_kde_c,
      [("Pearson r =  -0.258", 206.0, 788.3), ("MAE = 0.656", 206.0, 801.7)])
build("b2", b2_xy, b2_fit_x, b2_fit_y, b2_ci_x, b2_ci_lo, b2_ci_hi, b2_hist_start, b2_hist_width,
      b2_hist_counts, b2_kde_x, b2_kde_c,
      [("Pearson r =  -0.004", 546.7, 784.3), ("MAE = 0.690", 546.7, 797.7)])
build("b3", b3_xy, b3_fit_x, b3_fit_y, b3_ci_x, b3_ci_lo, b3_ci_hi, b3_hist_start, b3_hist_width,
      b3_hist_counts, b3_kde_x, b3_kde_c,
      [("Pearson r =  -0.351", 901.7, 778.3), ("MAE = 0.630", 901.7, 791.7)])

# every figure is wrapped in its own column so that the grid does not synchronise plot borders
wrapped = [Column(children=[f], margin=(top, 0, 0, left)) for f, left, top in placed]
page = GridBox(children=[(w, 0, 0) for w in wrapped])
open("out.html", "w").write(file_html(page, INLINE, "Figure 4"))
